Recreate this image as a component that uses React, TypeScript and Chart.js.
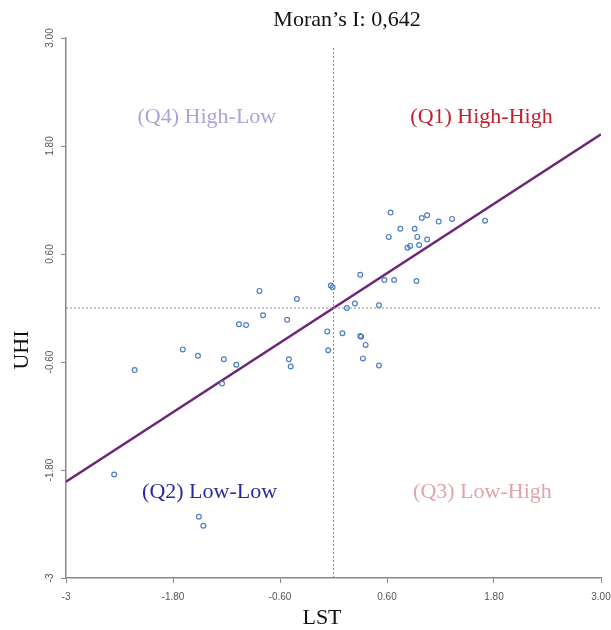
import React, { useEffect, useRef } from "react";
import { Chart, registerables } from "chart.js";

Chart.register(...registerables);

const lstValues = [
  -2.23, -1.69, -1.52, -1.23, -1.09, -1.25, -1.06, -0.98, -0.83, -0.79, -0.52, -0.41,
  -0.5, -0.48, -0.07, -0.06, -0.03, -0.01, 0.1, 0.15, 0.24, 0.3, 0.3, 0.31, 0.36, 0.33,
  0.51, 0.51, 0.57, 0.68, 0.93, 0.64, 0.62, 0.75, 0.91, 0.83, 0.86, 0.94, 0.96, 0.99,
  1.05, 1.05, 1.18, 1.33, 1.7, -2.46, -1.51, -1.46,
];
const uhiValues = [
  -0.69, -0.46, -0.53, -0.57, -0.63, -0.84, -0.18, -0.19, 0.19, -0.08, -0.13, 0.1,
  -0.57, -0.65, -0.26, -0.47, 0.25, 0.23, -0.28, 0.0, 0.05, 0.37, -0.31, -0.32, -0.41, -0.56,
  -0.64, 0.03, 0.31, 0.31, 0.3, 1.06, 0.79, 0.88, 0.88, 0.67, 0.69, 0.79, 0.7, 1.0,
  1.03, 0.76, 0.96, 0.99, 0.97, -1.85, -2.32, -2.42,
];
const regressionX = [-3, 3];
const regressionY = [-1.93, 1.93];
const tickValues = [-3, -1.8, -0.6, 0.6, 1.8, 3];
const tickLabels = ["-3", "-1.80", "-0.60", "0.60", "1.80", "3.00"];
const title = "Moran\u2019s I: 0,642";
const xTitle = "LST";
const yTitle = "UHI";
const quadrants = [
  { text: "(Q4) High-Low", x: -1.42, y: 2.12, color: "#a9a5dc" },
  { text: "(Q1) High-High", x: 1.66, y: 2.12, color: "#c21f2b" },
  { text: "(Q2) Low-Low", x: -1.39, y: -2.05, color: "#2a2aa0" },
  { text: "(Q3) Low-High", x: 1.67, y: -2.05, color: "#e2a3ab" },
];

const serif = '"Liberation Serif", "Times New Roman", serif';

const overlay = {
  id: "overlay",
  afterDraw(chart: any) {
    const ctx = chart.ctx;
    const xs = chart.scales.x;
    const ys = chart.scales.y;
    ctx.save();
    ctx.fillStyle = "#555";
    ctx.font = '10px "Liberation Sans", Arial, sans-serif';
    ctx.textAlign = "center";
    ctx.textBaseline = "middle";
    tickValues.forEach((v, i) => {
      ctx.fillText(tickLabels[i], xs.getPixelForValue(v), 597);
    });
    tickValues.forEach((v, i) => {
      ctx.save();
      ctx.translate(50, ys.getPixelForValue(v));
      ctx.rotate(-Math.PI / 2);
      ctx.fillText(tickLabels[i], 0, 0);
      ctx.restore();
    });
    ctx.fillStyle = "#111";
    ctx.font = "22px " + serif;
    ctx.fillText(title, 347, 20);
    ctx.fillText(xTitle, 322, 618);
    ctx.save();
    ctx.translate(22, 350);
    ctx.rotate(-Math.PI / 2);
    ctx.fillText(yTitle, 0, 0);
    ctx.restore();
    quadrants.forEach((q) => {
      ctx.fillStyle = q.color;
      ctx.fillText(q.text, xs.getPixelForValue(q.x), ys.getPixelForValue(q.y));
    });
    ctx.restore();
  },
};

export default function App() {
  const ref = useRef<HTMLCanvasElement>(null);
  useEffect(() => {
    const points = lstValues.map((x, i) => ({ x, y: uhiValues[i] }));
    const reg = regressionX.map((x, i) => ({ x, y: regressionY[i] }));
    const chart = new Chart(ref.current!, {
      type: "scatter",
      data: {
        datasets: [
          {
            type: "line",
            data: [{ x: 0, y: -3 }, { x: 0, y: 2.9 }],
            borderColor: "#8c8c8c",
            borderWidth: 1,
            borderDash: [2, 2],
            pointRadius: 0,
            showLine: true,
          } as any,
          {
            type: "line",
            data: [{ x: -3, y: 0 }, { x: 3, y: 0 }],
            borderColor: "#8c8c8c",
            borderWidth: 1,
            borderDash: [2, 2],
            pointRadius: 0,
            showLine: true,
          } as any,
          {
            data: points,
            pointRadius: 2.4,
            pointBorderWidth: 1.2,
            borderColor: "#4d7fc4",
            backgroundColor: "rgba(255,255,255,0)",
          },
          {
            type: "line",
            data: reg,
            borderColor: "#6c2777",
            borderWidth: 2.5,
            pointRadius: 0,
            showLine: true,
          } as any,
        ],
      },
      options: {
        animation: false,
        responsive: false,
        layout: { padding: { left: 0, top: 38, right: 10, bottom: 0 } },
        plugins: { legend: { display: false }, tooltip: { enabled: false }, title: { display: false } },
        scales: {
          x: {
            type: "linear",
            min: -3,
            max: 3,
            afterBuildTicks: (s: any) => {
              s.ticks = tickValues.map((value) => ({ value }));
            },
            afterFit: (s: any) => {
              s.height = 52;
            },
            ticks: { display: false },
            grid: { drawOnChartArea: false, drawTicks: true, tickLength: 5, color: "#888", lineWidth: 1 },
            border: { color: "#888", width: 1.5 },
          },
          y: {
            type: "linear",
            min: -3,
            max: 3,
            afterBuildTicks: (s: any) => {
              s.ticks = tickValues.map((value) => ({ value }));
            },
            afterFit: (s: any) => {
              s.width = 66;
            },
            ticks: { display: false },
            grid: { drawOnChartArea: false, drawTicks: true, tickLength: 5, color: "#888", lineWidth: 1 },
            border: { color: "#888", width: 1.5 },
          },
        },
      },
      plugins: [overlay],
    });
    return () => chart.destroy();
  }, []);
  return (
    <div style={{ position: "fixed", left: 0, top: 0, width: 611, height: 630, background: "#fff" }}>
      <canvas ref={ref} width={611} height={630} style={{ width: 611, height: 630, display: "block" }} />
    </div>
  );
}
